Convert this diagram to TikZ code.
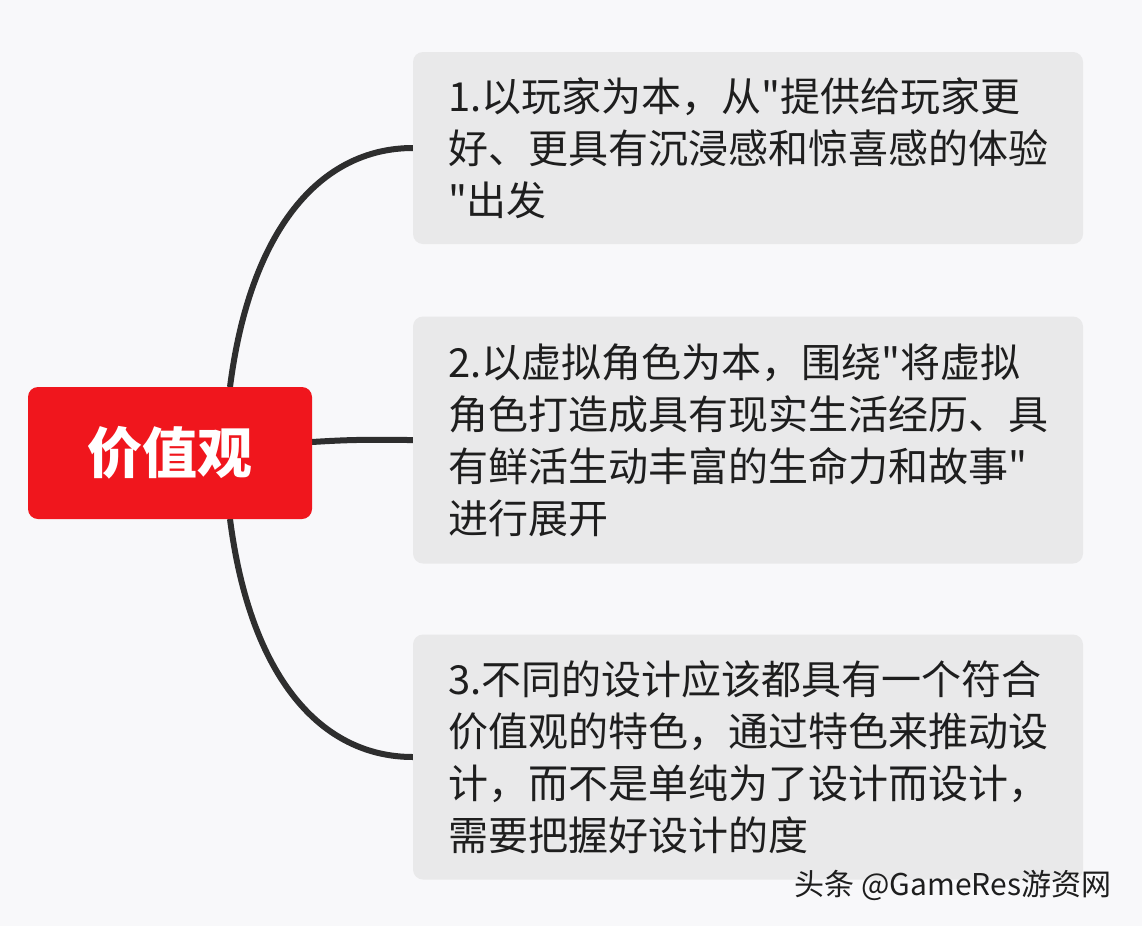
\documentclass[tikz,border=0pt]{standalone}
\usepackage{fontspec}
\setmainfont{Noto Sans CJK SC}[Ligatures=TeXOff]

\definecolor{pagebg}{HTML}{F8F8FA}
\definecolor{rootred}{HTML}{F0161D}
\definecolor{leafgray}{HTML}{E9E9EA}
\definecolor{linkdark}{HTML}{2E2E2E}
\definecolor{textdark}{HTML}{1E1E1E}

\begin{document}
\begin{tikzpicture}[x=1pt,y=-1pt,
    rootbox/.style={fill=rootred, rounded corners=10pt, minimum width=284pt,
      minimum height=132pt, inner sep=0pt, text=white,
      font=\fontsize{55}{60}\selectfont\bfseries},
    leafbox/.style={fill=leafgray, rounded corners=10pt, text width=600pt,
      inner xsep=35pt, inner ysep=0pt, align=left, text=textdark,
      font=\fontsize{40}{52}\selectfont},
    link/.style={draw=linkdark, line width=6pt},
    watermark/.style={text=textdark, inner sep=0pt,
      font=\fontsize{30}{34}\selectfont}]
        \useasboundingbox (0,0) rectangle (1142,926);
        \fill [pagebg] (0,0) rectangle (1142,926);
        % links first, boxes on top
        \path (170,453) coordinate (c0);
        \draw [link] ([xshift=60pt]c0 |- 0,387) .. controls (250,230) and (320,148) .. (413,148);
        \draw [link] (312,442) .. controls (360,439) and (370,440) .. (413,440);
        \draw [link] ([xshift=60pt]c0 |- 0,519) .. controls (250,676) and (320,757) .. (413,757);
        % centre
        \node [rootbox] (root) at (c0) {价值观};
        % branches
        \node [leafbox, minimum height=192pt] (b1) at (748,148)
          {1.以玩家为本，从"提供给玩家更\\好、更具有沉浸感和惊喜感的体验\\"出发};
        \node [leafbox, minimum height=247pt] (b2) at (748,440)
          {2.以虚拟角色为本，围绕"将虚拟\\角色打造成具有现实生活经历、具\\有鲜活生动丰富的生命力和故事"\\进行展开};
        \node [leafbox, minimum height=245pt] (b3) at (748,757)
          {3.不同的设计应该都具有一个符合\\价值观的特色，通过特色来推动设\\计，而不是单纯为了设计而设计，\\需要把握好设计的度};
        \node [watermark] (credit) at (953,885) {头条 @GameRes游资网};
\end{tikzpicture}
\end{document}
